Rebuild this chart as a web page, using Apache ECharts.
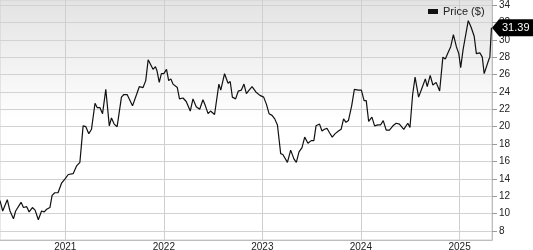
<!DOCTYPE html>
<html><head><meta charset="utf-8">
<script src="https://cdn.jsdelivr.net/npm/echarts@6/dist/echarts.min.js"></script>
<style>html,body{margin:0;padding:0;background:#fff;overflow:hidden}#c{width:533px;height:250px}</style>
</head><body><div id="c"></div>
<script>
const seriesName = 'Price ($)';
const dates = [
'2020-05-04','2020-05-14','2020-05-31','2020-06-10','2020-06-23','2020-07-01','2020-07-21','2020-07-30','2020-08-11','2020-08-20',
'2020-09-01','2020-09-11','2020-09-23','2020-10-05','2020-10-15','2020-10-24','2020-11-05','2020-11-13','2020-11-23','2020-12-05',
'2020-12-18','2020-12-31','2021-01-12','2021-01-30','2021-02-06','2021-02-12','2021-02-24','2021-03-08','2021-03-18','2021-03-29',
'2021-04-08','2021-04-21','2021-04-29','2021-05-09','2021-05-19','2021-05-31','2021-06-13','2021-06-21','2021-07-01','2021-07-12',
'2021-07-28','2021-08-06','2021-08-18','2021-09-07','2021-09-22','2021-10-02','2021-10-16','2021-10-26','2021-11-04','2021-11-10',
'2021-11-22','2021-12-01','2021-12-07','2021-12-15','2021-12-23','2022-01-01','2022-01-11','2022-01-19','2022-01-27','2022-02-04',
'2022-02-20','2022-02-28','2022-03-13','2022-03-25','2022-04-09','2022-04-19','2022-05-01','2022-05-14','2022-05-26','2022-06-04',
'2022-06-14','2022-06-23','2022-07-08','2022-07-24','2022-07-31','2022-08-14','2022-08-27','2022-09-04','2022-09-12','2022-09-24',
'2022-10-04','2022-10-15','2022-10-25','2022-11-03','2022-11-13','2022-11-24','2022-12-08','2022-12-23','2023-01-06','2023-01-16',
'2023-01-26','2023-02-06','2023-02-16','2023-02-26','2023-03-10','2023-03-18','2023-03-25','2023-04-04','2023-04-16','2023-04-28',
'2023-05-07','2023-05-17','2023-05-28','2023-06-07','2023-06-13','2023-06-19','2023-07-01','2023-07-11','2023-07-19','2023-08-01',
'2023-08-10','2023-08-19','2023-08-29','2023-09-07','2023-09-17','2023-09-28','2023-10-10','2023-10-20','2023-10-29','2023-11-07',
'2023-11-16','2023-11-28','2023-12-08','2023-12-23','2024-01-03','2024-01-13','2024-01-21','2024-01-30','2024-02-11','2024-02-21',
'2024-03-04','2024-03-14','2024-03-24','2024-04-04','2024-04-16','2024-04-29','2024-05-11','2024-05-23','2024-06-08','2024-06-23',
'2024-07-01','2024-07-11','2024-07-20','2024-08-02','2024-08-14','2024-08-27','2024-09-03','2024-09-14','2024-09-24','2024-10-06',
'2024-10-19','2024-10-31','2024-11-09','2024-11-19','2024-11-29','2024-12-09','2024-12-20','2024-12-29','2025-01-05','2025-01-14',
'2025-01-20','2025-02-02','2025-02-12','2025-02-24','2025-03-04','2025-03-17','2025-03-26','2025-04-02','2025-04-09','2025-04-19',
'2025-04-23','2025-04-29'
];
const prices = [
11.5,10.3,11.6,10.3,9.4,10.3,11.3,10.7,10.8,10.2,
10.7,10.4,9.3,10.3,10.2,10.5,10.7,12.1,12.4,12.4,
13.5,14.0,14.5,14.6,14.5,15.5,15.9,20.1,20.0,19.2,
19.7,22.7,22.2,22.2,21.5,24.3,20.1,21.0,20.3,20.0,
23.4,23.7,23.7,22.4,23.7,24.6,24.5,25.3,27.7,27.8,
26.6,26.9,26.4,25.1,26.1,26.1,26.6,25.3,25.5,24.9,
24.5,23.2,23.3,22.9,21.8,23.2,22.3,22.0,23.1,22.4,
21.5,21.8,21.4,24.9,24.2,26.1,25.0,25.2,23.4,23.2,
24.1,24.2,24.9,23.8,24.2,24.6,24.0,23.6,23.4,22.6,
21.5,21.3,20.9,20.2,16.9,16.8,16.8,15.9,17.3,16.3,
15.9,17.1,17.6,18.8,18.8,18.1,18.4,18.4,20.1,20.3,
19.5,19.7,19.8,19.3,18.8,19.2,19.5,19.7,20.9,20.5,
20.7,22.4,24.3,24.2,24.2,23.0,23.0,20.6,21.1,20.1,
20.2,20.2,20.7,19.6,19.6,20.1,20.4,20.3,19.7,20.4,
19.9,23.7,25.7,23.4,24.4,25.5,24.6,25.9,24.8,25.1,
24.1,28.0,27.8,28.5,29.2,30.6,29.2,28.4,26.8,28.9,
29.0,32.2,31.5,30.4,28.4,28.5,28.0,26.1,26.2,27.7,
28.0,31.39
];
const xStart = '2020-05-04';
const xEnd = '2025-05-01';
const yearTicks = ['2021-01-01','2022-01-01','2023-01-01','2024-01-01','2025-01-01'];
const yearLabels = ['2021','2022','2023','2024','2025'];
const yMin = 8, yMax = 34, yStep = 2;
const lastLabel = '31.39';

const FONT = 'Liberation Sans, Arial, Helvetica, sans-serif';
const ts = (d) => Date.parse(d + 'T00:00:00Z');
const tickTs = yearTicks.map(ts);
const chart = echarts.init(document.getElementById('c'), null, {renderer: 'canvas'});
const seriesData = dates.map((d, i) => [ts(d), prices[i]]);
const option = {
  animation: false,
  backgroundColor: '#fff',
  textStyle: {fontFamily: FONT},
  grid: [
    {left: 0, right: 41, top: 5, bottom: 19, outerBoundsMode: 'none', containLabel: false},
    {left: 0, right: 41, top: 0, bottom: 10, outerBoundsMode: 'none', containLabel: false, show: true, borderWidth: 1, borderColor: '#cfcfcf',
     backgroundColor: new echarts.graphic.LinearGradient(0, 0, 0, 1, [
       {offset: 0, color: '#e3e3e3'}, {offset: 0.5, color: '#ffffff'}, {offset: 1, color: '#ffffff'}
     ]), z: 0}
  ],
  legend: {
    data: [seriesName], left: 428, top: 6, icon: 'rect', itemWidth: 10, itemHeight: 5, itemGap: 5,
    textStyle: {fontSize: 11, color: '#222', fontFamily: FONT}, padding: 0, selectedMode: false
  },
  xAxis: [
    {type: 'value', gridIndex: 0, min: ts(xStart), max: ts(xEnd), show: false, splitLine: {show: false}},
    {type: 'value', gridIndex: 1, min: ts(xStart), max: ts(xEnd),
     axisLine: {show: true, lineStyle: {color: '#bdbdbd', width: 1}},
     axisTick: {show: false, customValues: tickTs},
     axisLabel: {customValues: tickTs, margin: 2, fontSize: 10, color: '#222', fontFamily: FONT,
       formatter: (v) => { const i = tickTs.indexOf(v); return i >= 0 ? yearLabels[i] : ''; }},
     splitLine: {show: true, lineStyle: {color: '#cfcfcf', width: 1}}
    }
  ],
  yAxis: [
    {type: 'value', gridIndex: 0, position: 'right', min: yMin, max: yMax, interval: yStep,
     axisLine: {show: false},
     axisTick: {show: true, length: 5, lineStyle: {color: '#9a9a9a'}},
     axisLabel: {margin: 7, fontSize: 10, color: '#222', fontFamily: FONT, showMinLabel: true, showMaxLabel: true},
     splitLine: {show: true, lineStyle: {color: '#d2d2d2', width: 1}}},
    {type: 'value', gridIndex: 1, position: 'right', min: 0, max: 1,
     axisLine: {show: true, lineStyle: {color: '#bdbdbd'}}, axisTick: {show: false}, axisLabel: {show: false}, splitLine: {show: false}}
  ],
  series: [{
    name: seriesName, type: 'line', xAxisIndex: 0, yAxisIndex: 0, data: seriesData,
    showSymbol: false, symbol: 'none', lineStyle: {color: '#111', width: 1.2}, itemStyle: {color: '#111'}, z: 5
  }]
};
chart.setOption(option);

const lastVal = prices[prices.length - 1];
const ty = chart.convertToPixel({yAxisIndex: 0}, lastVal);
const tx = chart.convertToPixel({xAxisIndex: 0}, ts(xEnd));
const h = 8.5;
chart.setOption({
  graphic: [
    {type: 'polygon', z: 100, shape: {points: [[tx, ty], [tx + 7, ty - h], [533, ty - h], [533, ty + h], [tx + 7, ty + h]]}, style: {fill: '#000'}},
    {type: 'text', z: 101, x: tx + 10, y: ty, style: {text: lastLabel, fill: '#fff', fontSize: 11, fontFamily: FONT, verticalAlign: 'middle', align: 'left'}}
  ]
});
</script>
</body></html>
